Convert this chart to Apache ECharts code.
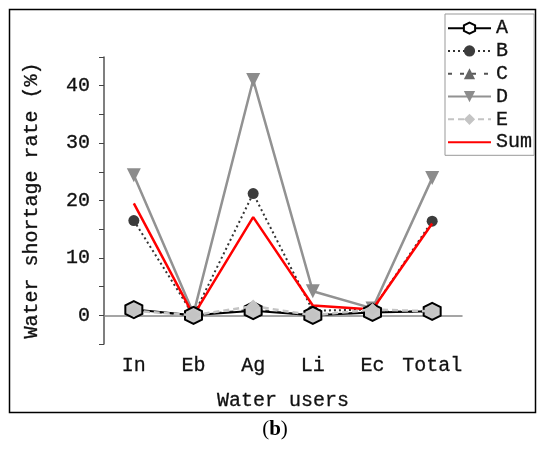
<!DOCTYPE html>
<html>
<head>
<meta charset="utf-8">
<script src="https://cdn.jsdelivr.net/npm/echarts@6/dist/echarts.min.js"></script>
<style>html,body{margin:0;padding:0;background:#fff}#c{width:550px;height:450px}</style>
</head>
<body>
<div id="c"></div>
<script>
const categories = ['In', 'Eb', 'Ag', 'Li', 'Ec', 'Total'];
const seriesA = [1.0, 0.0, 0.8, 0.0, 0.5, 0.7];
const seriesB = [16.5, 0.0, 21.2, 0.8, 1.0, 16.4];
const seriesC = [0.8, 0.0, 1.0, 0.0, 0.6, 0.7];
const seriesD = [24.4, 0.3, 41.0, 4.2, 1.2, 23.9];
const seriesE = [0.8, 0.0, 1.6, 0.0, 1.0, 0.7];
const seriesSum = [19.5, 0.0, 17.1, 1.7, 1.0, 16.0];
const yTicks = [0, 10, 20, 30, 40];

const FONT = 'Liberation Mono';
const hexagon = 'path://M0,-10L8.66,-5L8.66,5L0,10L-8.66,5L-8.66,-5Z';

const chart = echarts.init(document.getElementById('c'), null, {renderer: 'canvas'});
const txt = {fontFamily: FONT, fontSize: 20, color: '#111', textBorderColor: '#111', textBorderWidth: 0.3};

chart.setOption({
  animation: false,
  backgroundColor: '#fff',
  grid: {left: 104, right: 88, top: 57, bottom: 106},
  legend: {
    orient: 'vertical',
    left: 445, top: 14,
    padding: [4, 2, 3, 2],
    itemWidth: 43, itemHeight: 14, itemGap: 2.5,
    borderColor: '#999', borderWidth: 1, backgroundColor: '#fff',
    textStyle: Object.assign({}, txt, {lineHeight: 20, padding: 0}),
    data: [
      {name: 'A', itemStyle: {color: '#fff', borderColor: '#000', borderWidth: 2}},
      'B', 'C', 'D', 'E',
      {name: 'Sum', itemStyle: {opacity: 0}}
    ]
  },
  xAxis: {
    type: 'category',
    data: categories,
    boundaryGap: true,
    name: 'Water users',
    nameLocation: 'middle',
    nameGap: 47,
    nameTextStyle: txt,
    axisLine: {lineStyle: {color: '#888', width: 1.5}},
    axisTick: {alignWithLabel: true, interval: 0, length: 5, lineStyle: {color: '#444'}},
    axisLabel: Object.assign({}, txt, {margin: 12, interval: 0})
  },
  yAxis: {
    type: 'value',
    min: -5, max: 45, interval: 5,
    name: 'Water shortage rate (%)',
    nameLocation: 'middle',
    nameGap: 62,
    nameTextStyle: txt,
    splitLine: {show: false},
    axisLine: {show: true, lineStyle: {color: '#555', width: 1.5}},
    axisTick: {show: true, length: 5, lineStyle: {color: '#444'}},
    axisLabel: Object.assign({}, txt, {
      margin: 14,
      formatter: v => (yTicks.indexOf(v) >= 0 ? String(v) : '')
    })
  },
  series: [
    {name: 'A', type: 'line', data: seriesA, z: 8,
     symbol: hexagon, symbolSize: 17, showAllSymbol: true,
     lineStyle: {color: '#000', width: 2},
     itemStyle: {color: '#c8c8c8', borderColor: '#000', borderWidth: 2}},
    {name: 'B', type: 'line', data: seriesB, z: 4,
     symbol: 'circle', symbolSize: 11,
     lineStyle: {color: '#333', width: 2, type: [2, 3]},
     itemStyle: {color: '#3c3c3c'}},
    {name: 'C', type: 'line', data: seriesC, z: 5,
     symbol: 'triangle', symbolSize: 11,
     lineStyle: {color: '#555', width: 2, type: [4, 8]},
     itemStyle: {color: '#666'}},
    {name: 'D', type: 'line', data: seriesD, z: 3,
     symbol: 'triangle', symbolRotate: 180, symbolSize: 14,
     lineStyle: {color: '#929292', width: 2.5},
     itemStyle: {color: '#8c8c8c'}},
    {name: 'E', type: 'line', data: seriesE, z: 9,
     symbol: 'diamond', symbolSize: 13,
     lineStyle: {color: '#c4c4c4', width: 2.5, type: [6, 4]},
     itemStyle: {color: '#c4c4c4'}},
    {name: 'Sum', type: 'line', data: seriesSum, z: 6,
     symbol: 'none',
     lineStyle: {color: '#ff0000', width: 2.5},
     itemStyle: {color: '#ff0000'}}
  ],
  graphic: [
    {type: 'rect', z: -10, silent: true,
     shape: {x: 9.5, y: 9.5, width: 526, height: 403},
     style: {fill: 'none', stroke: '#000', lineWidth: 1.5}},
    {type: 'text', left: 'center', top: 419, silent: true,
     style: {
       x: 0, y: 0,
       text: '{r|(}{b|b}{r|)}',
       rich: {
         r: {fontFamily: 'Liberation Serif', fontSize: 21, fill: '#000'},
         b: {fontFamily: 'Liberation Serif', fontSize: 21, fontWeight: 'bold', fill: '#000'}
       }
     }}
  ]
});
</script>
</body>
</html>
